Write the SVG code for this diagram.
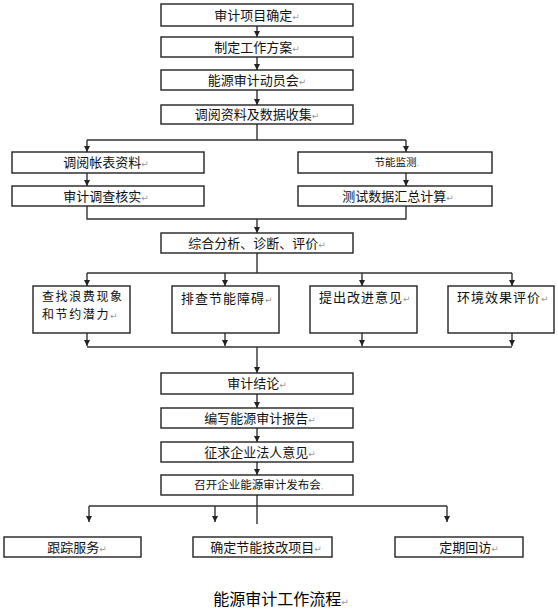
<svg xmlns="http://www.w3.org/2000/svg" width="558" height="614" viewBox="0 0 558 614">
<style>
.box{fill:#fff;stroke:#222;stroke-width:1.4}
.ln{fill:none;stroke:#333;stroke-width:1.4}
text{font-family:"Noto Sans CJK SC","DejaVu Sans",sans-serif;font-size:13px;fill:#111;text-anchor:middle}
.pm{fill:#999;font-size:9px;font-family:"DejaVu Sans",sans-serif}
.sm{font-size:10.5px}
.md{font-size:11.5px}
.cap{font-size:16px;fill:#000}
.lt{text-anchor:start;letter-spacing:1px}
.lt2{font-size:12px;letter-spacing:1.6px}
</style>
<defs>
<marker id="ah" viewBox="0 0 8 8" refX="8" refY="4" markerWidth="6" markerHeight="6" markerUnits="userSpaceOnUse" orient="auto">
<path d="M0,0 L8,4 L0,8 z" fill="#222"/>
</marker>
</defs>
<g id="connectors">
<line class="ln" x1="257" y1="26" x2="257" y2="37" marker-end="url(#ah)"/>
<line class="ln" x1="257" y1="57" x2="257" y2="70" marker-end="url(#ah)"/>
<line class="ln" x1="257" y1="90" x2="257" y2="105" marker-end="url(#ah)"/>
<path class="ln" d="M257,124 V140 M87,140 H406"/>
<line class="ln" x1="87" y1="140" x2="87" y2="152" marker-end="url(#ah)"/>
<line class="ln" x1="406" y1="140" x2="406" y2="152" marker-end="url(#ah)"/>
<line class="ln" x1="87" y1="173" x2="87" y2="186" marker-end="url(#ah)"/>
<line class="ln" x1="406" y1="173" x2="406" y2="186" marker-end="url(#ah)"/>
<path class="ln" d="M87,206 V219 H406 V206"/>
<line class="ln" x1="257" y1="219" x2="257" y2="233" marker-end="url(#ah)"/>
<path class="ln" d="M257,253 V273 M87,273 H512"/>
<line class="ln" x1="87" y1="273" x2="87" y2="286" marker-end="url(#ah)"/>
<line class="ln" x1="225" y1="273" x2="225" y2="286" marker-end="url(#ah)"/>
<line class="ln" x1="362" y1="273" x2="362" y2="286" marker-end="url(#ah)"/>
<line class="ln" x1="512" y1="273" x2="512" y2="286" marker-end="url(#ah)"/>
<line class="ln" x1="87" y1="333" x2="87" y2="346" marker-end="url(#ah)"/>
<line class="ln" x1="225" y1="333" x2="225" y2="346" marker-end="url(#ah)"/>
<line class="ln" x1="362" y1="333" x2="362" y2="346" marker-end="url(#ah)"/>
<line class="ln" x1="512" y1="333" x2="512" y2="346" marker-end="url(#ah)"/>
<path class="ln" d="M87,347 H512"/>
<line class="ln" x1="257" y1="347" x2="257" y2="373" marker-end="url(#ah)"/>
<line class="ln" x1="257" y1="394" x2="257" y2="408" marker-end="url(#ah)"/>
<line class="ln" x1="257" y1="428" x2="257" y2="442" marker-end="url(#ah)"/>
<line class="ln" x1="257" y1="462" x2="257" y2="475" marker-end="url(#ah)"/>
<path class="ln" d="M257,495 V524 M89,506 H447"/>
<line class="ln" x1="89" y1="506" x2="89" y2="522" marker-end="url(#ah)"/>
<line class="ln" x1="215" y1="506" x2="215" y2="522" marker-end="url(#ah)"/>
<line class="ln" x1="447" y1="506" x2="447" y2="522" marker-end="url(#ah)"/>
</g>
<g id="n1"><rect class="box" x="161" y="4" width="192" height="22"/><text x="257" y="20">审计项目确定<tspan class="pm">↵</tspan></text></g>
<g id="n2"><rect class="box" x="161" y="37" width="192" height="20"/><text x="257" y="52">制定工作方案<tspan class="pm">↵</tspan></text></g>
<g id="n3"><rect class="box" x="161" y="70" width="192" height="20"/><text x="257" y="85">能源审计动员会<tspan class="pm">↵</tspan></text></g>
<g id="n4"><rect class="box" x="161" y="105" width="192" height="19"/><text x="257" y="119">调阅资料及数据收集<tspan class="pm">↵</tspan></text></g>
<g id="n5"><rect class="box" x="12" y="152" width="192" height="21"/><text x="106" y="167">调阅帐表资料<tspan class="pm">↵</tspan></text></g>
<g id="n6"><rect class="box" x="12" y="186" width="192" height="20"/><text x="106" y="201">审计调查核实<tspan class="pm">↵</tspan></text></g>
<g id="n7"><rect class="box" x="298" y="152" width="194" height="21"/><text class="sm" x="397" y="166">节能监测<tspan class="pm">.</tspan></text></g>
<g id="n8"><rect class="box" x="298" y="186" width="194" height="20"/><text x="398" y="201">测试数据汇总计算<tspan class="pm">↵</tspan></text></g>
<g id="n9"><rect class="box" x="161" y="233" width="192" height="20"/><text x="257" y="248">综合分析、诊断、评价<tspan class="pm">↵</tspan></text></g>
<g id="n10"><rect class="box" x="33" y="286" width="97" height="47"/><text class="lt lt2" x="42" y="301">查找浪费现象</text><text class="lt lt2" x="42" y="319">和节约潜力<tspan class="pm">↵</tspan></text></g>
<g id="n11"><rect class="box" x="172" y="286" width="107" height="47"/><text class="lt" x="181" y="303">排查节能障碍<tspan class="pm">↵</tspan></text></g>
<g id="n12"><rect class="box" x="310" y="286" width="107" height="47"/><text class="lt" x="319" y="302">提出改进意见<tspan class="pm">↵</tspan></text></g>
<g id="n13"><rect class="box" x="448" y="286" width="106" height="47"/><text class="lt" x="457" y="302">环境效果评价<tspan class="pm">↵</tspan></text></g>
<g id="n14"><rect class="box" x="161" y="373" width="192" height="21"/><text x="257" y="388">审计结论<tspan class="pm">↵</tspan></text></g>
<g id="n15"><rect class="box" x="161" y="408" width="192" height="20"/><text x="260" y="423">编写能源审计报告<tspan class="pm">↵</tspan></text></g>
<g id="n16"><rect class="box" x="161" y="442" width="192" height="20"/><text x="260" y="457">征求企业法人意见<tspan class="pm">↵</tspan></text></g>
<g id="n17"><rect class="box" x="161" y="475" width="192" height="20"/><text class="md" x="259" y="489">召开企业能源审计发布会<tspan class="pm">.</tspan></text></g>
<g id="n18"><rect class="box" x="4" y="537" width="137" height="20"/><text x="77" y="552">跟踪服务<tspan class="pm">↵</tspan></text></g>
<g id="n19"><rect class="box" x="193" y="537" width="139" height="20"/><text x="266" y="552">确定节能技改项目<tspan class="pm">↵</tspan></text></g>
<g id="n20"><rect class="box" x="395" y="537" width="128" height="20"/><text x="469" y="552">定期回访<tspan class="pm">↵</tspan></text></g>
<text class="cap" x="281" y="605">能源审计工作流程<tspan class="pm">↵</tspan></text>
</svg>
